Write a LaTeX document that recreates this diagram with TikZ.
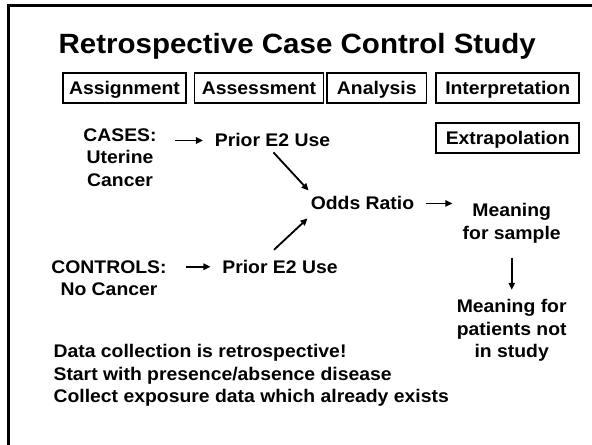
\documentclass[tikz,border=0pt]{standalone}
\usepackage{fontspec}
\setmainfont{Liberation Sans}[FakeStretch=1.06]
\usetikzlibrary{arrows.meta, calc}
\tikzset{
    stage/.style={draw, line width=1.2pt, minimum height=0.75cm,
        inner sep=0pt, text height=9.3pt, text depth=0pt}, % boxed phase heading
    lbl/.style={inner sep=0pt, align=center}, % plain bold label
    arr/.style={-{Triangle[length=5pt,width=4.5pt]}, line width=1.3pt},
}
\begin{document}
\begin{tikzpicture}[x=0.025cm, y=-0.025cm, font=\fontsize{13}{16}\selectfont\bfseries]
    \useasboundingbox (0,0) rectangle (592,445);
    \draw[line width=1.8pt] (8.7,445) -- (8.7,5.3) -- (592,5.3);
    \node[anchor=base west, inner sep=0pt, font=\fontsize{19.8}{24}\selectfont\bfseries]
        (title) at (58.3,53.3) {Retrospective Case Control Study};
    % phase headings
    \node[stage, minimum width=3.09cm] (assign) at (124.5,88.3) {Assignment};
    \node[stage, minimum width=3.22cm] (assess) at (259,88.3) {Assessment};
    \node[stage, minimum width=2.49cm] (analys) at (376.8,88.3) {Analysis};
    \node[stage, minimum width=3.58cm] (interp) at (507.7,88.3) {Interpretation};
    \node[stage, minimum width=3.58cm] (extrap) at (507.7,138.3) {Extrapolation};
    % flow
    \node[lbl, anchor=north] (cases) at (120,128.3) {CASES:\\Uterine\\Cancer};
    \node[lbl, anchor=base] (priorA) at (272.5,147) {Prior E2 Use};
    \node[lbl, anchor=base] (odds) at (362.5,210) {Odds Ratio};
    \node[lbl, anchor=north] (sample) at (511.7,203) {Meaning\\for sample};
    \node[lbl, anchor=north] (patients) at (511.7,299) {Meaning for\\patients not\\in study};
    \node[lbl, anchor=north] (controls) at (109,260) {CONTROLS:\\No Cancer};
    \node[lbl, anchor=base] (priorB) at (280,273.3) {Prior E2 Use};
    \node[lbl, anchor=north west, align=left] (notes) at (53.3,344.3)
        {Data collection is retrospective!\\Start with presence/absence disease\\Collect exposure data which already exists};
    % arrows
    \draw[arr, yshift=0.08cm, shorten <=0.46cm, shorten >=0.29cm] (cases.east |- priorA.west) -- (priorA.west);
    \draw[arr] ($(priorA.south)+(1,5)$) -- ($(odds.north west)+(-2,-6)$);
    \draw[arr] ($(priorB.north)+(-6,-10)$) -- ($(odds.south west)+(-3,8)$);
    \draw[arr, shorten <=0.49cm, shorten >=0.29cm] (controls.east |- priorB.west) -- (priorB.west);
    \draw[arr, yshift=-0.08cm, shorten <=0.29cm, shorten >=0.25cm] (odds.east) -- (odds.east -| sample.west);
    \draw[arr, shorten <=0.36cm, shorten >=0.23cm] (sample.south) -- (patients.north);
\end{tikzpicture}
\end{document}
